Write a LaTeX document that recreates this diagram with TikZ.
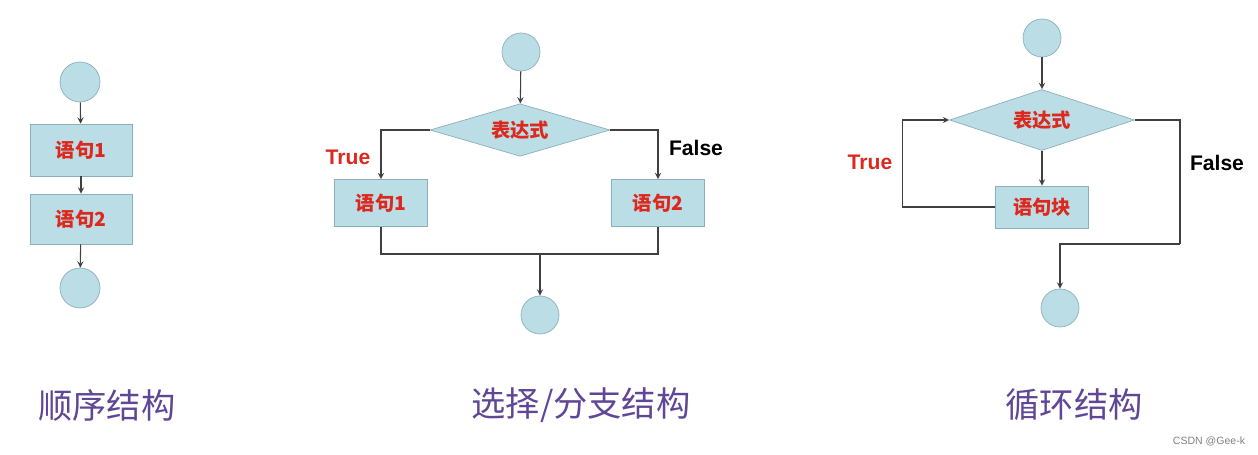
\documentclass[tikz,border=0pt]{standalone}
\usepackage{fontspec}
\setmainfont{Liberation Sans}
\newfontfamily\cjk{Noto Sans CJK SC}
\usetikzlibrary{shapes.geometric}
\definecolor{boxfill}{RGB}{187,221,229}
\definecolor{boxline}{RGB}{140,175,190}
\definecolor{labred}{RGB}{220,40,30}
\definecolor{titlepurple}{RGB}{95,70,150}
\tikzset{
  term/.style={circle, minimum size=0.8cm, inner sep=0pt, fill=boxfill, draw=boxline},
  stmt/.style={rectangle, minimum width=1.86cm, minimum height=0.94cm, fill=boxfill, draw=boxline, text=labred, font=\cjk\bfseries\fontsize{11}{13}\selectfont},
  cond/.style={diamond, aspect=3.5, minimum width=3.6cm, minimum height=1.05cm, inner sep=0pt, fill=boxfill, draw=boxline, text=labred, font=\cjk\bfseries\fontsize{11}{13}\selectfont},
  flow/.style={draw=black!75, ->, >=stealth, semithick},
  tlab/.style={text=labred, font=\bfseries\fontsize{12}{14}\selectfont},
  flab/.style={text=black, font=\bfseries\fontsize{12}{14}\selectfont},
  title/.style={text=titlepurple, font=\cjk\fontsize{19.5}{22}\selectfont}
}
\begin{document}
\begin{tikzpicture}[x=0.02cm, y=-0.02cm]
\useasboundingbox (0,0) rectangle (1258,455);
% sequence
\node[term] (s0) at (80,82){};
\node[stmt, minimum width=2.04cm, minimum height=1.04cm] (s1) at (81,150){语句1};
\node[stmt, minimum width=2.04cm, minimum height=1.0cm] (s2) at (81,219){语句2};
\node[term] (s3) at (80,288){};
\draw[flow](s0) -- (s1);
\draw[flow](s1) -- (s2);
\draw[flow](s2) -- (s3);
\node[title] (t1) at (107,405){顺序结构};
% selection
\node[term, minimum size=0.76cm] (c0) at (521,52){};
\node[cond] (c1) at (520,130){表达式};
\node[stmt] (c2) at (381,203){语句1};
\node[stmt] (c3) at (658,203){语句2};
\node[term, minimum size=0.76cm] (c4) at (540,315){};
\coordinate (cj) at (540,254);
\draw[flow](c0) -- (c1);
\draw[flow](c1.west) -| (c2.north);
\draw[flow](c1.east) -| (c3.north);
\draw[semithick, black!75](c2.south) |- (cj) -| (c3.south);
\draw[flow](cj) -- (c4);
\node[tlab] (ct) at (348,157){True};
\node[flab] (cf) at (696,148){False};
\node[title] (t2) at (581,405){选择/分支结构};
% loop
\node[term, minimum size=0.76cm] (l0) at (1042,38){};
\node[cond, minimum width=3.7cm, minimum height=1.22cm] (l1) at (1042,120){表达式};
\node[stmt, minimum height=0.84cm] (l2) at (1042,207){语句块};
\node[term, minimum size=0.76cm] (l3) at (1060,308){};
\coordinate (lf) at (1180,244);
\draw[flow](l0) -- (l1);
\draw[flow](l1) -- (l2);
\draw[flow](l2.west) -- ++(-93,0) |- (l1.west);
\draw[semithick, black!75](l1.east) -| (lf);
\draw[flow](lf) -| (l3.north);
\node[tlab] (lt) at (870,162){True};
\node[flab] (lfl) at (1217,163){False};
\node[title] (t3) at (1074,405){循环结构};
\node[text=black!50, font=\fontsize{6}{7}\selectfont] (wm) at (1209,441){CSDN @Gee-k};
\end{tikzpicture}
\end{document}
